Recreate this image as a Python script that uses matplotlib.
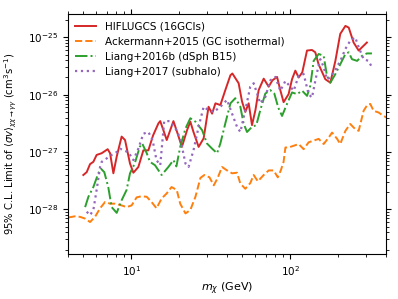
import numpy as np
import matplotlib
matplotlib.use('Agg')
import matplotlib.pyplot as plt

# values; masses in GeV, limits as log10(<sigma v> / cm^3 s^-1)
hif_mass = [4.99, 5.24, 5.50, 5.77, 6.05, 6.51, 7.10, 7.35, 7.71, 8.09, 8.69, 9.13, 9.81,
            10.3, 11.07, 11.9, 12.8, 13.7, 14.8, 15.2, 16.7, 18.4, 19.4, 20.8, 22.4, 23.5,
            24.6, 26.5, 28.5, 30.6, 32.2, 33.8, 36.3, 39.0, 42.0, 43.2, 47.3, 49.7, 52.1,
            54.7, 57.4, 60.3, 63.2, 68.0, 73.1, 77.1, 82.5, 86.5, 90.7, 97.5, 102.5, 107.5,
            112.8, 118.9, 127.3, 136.8, 143.5, 150.6, 166, 178.5, 192, 206, 222, 233, 250,
            269, 283, 303]
hif_logsv = [-27.40, -27.35, -27.21, -27.17, -27.05, -27.02, -26.95, -27.02, -27.37, -27.08,
             -26.73, -26.79, -27.20, -27.36, -27.26, -26.97, -26.97, -26.71, -26.50, -26.46,
             -26.79, -26.46, -26.65, -26.91, -26.62, -26.47, -26.65, -26.91, -26.76, -26.21,
             -26.33, -26.15, -26.18, -25.92, -25.66, -25.63, -25.80, -26.12, -26.30, -26.15,
             -26.53, -26.27, -25.92, -25.72, -25.86, -25.75, -25.69, -25.92, -26.13, -25.99,
             -25.73, -25.58, -25.70, -25.61, -25.23, -25.22, -25.26, -25.47, -25.73, -25.79,
             -25.41, -24.94, -24.80, -24.83, -25.09, -25.23, -25.17, -25.09]

ack_mass = [4.02, 4.43, 4.76, 5.12, 5.50, 5.91, 6.36, 6.84, 7.35, 7.89, 8.69, 9.34, 10.04,
            10.8, 11.6, 12.5, 13.4, 14.4, 15.5, 16.7, 17.9, 19.3, 20.3, 21.9, 23.5, 25.3,
            27.2, 28.8, 31.0, 33.0, 34.8, 37.2, 40.0, 43.0, 46.2, 48.5, 52.1, 56.0, 58.8,
            62.5, 68.0, 73.1, 78.5, 83.4, 87.1, 90.7, 93.1, 97.5, 105, 112.8, 121.3, 130.3,
            140.2, 150.7, 162, 174, 183, 197, 206, 222, 238, 256, 269, 289, 303, 318, 334,
            359, 386, 405]
ack_logsv = [-28.14, -28.12, -28.13, -28.16, -28.22, -28.13, -27.98, -27.87, -27.90, -27.90,
             -27.93, -27.96, -27.93, -27.79, -27.77, -27.78, -27.87, -27.98, -27.81, -27.72,
             -27.61, -27.66, -27.90, -28.07, -28.01, -27.78, -27.45, -27.40, -27.44, -27.58,
             -27.46, -27.26, -27.32, -27.37, -27.36, -27.55, -27.64, -27.54, -27.40, -27.51,
             -27.40, -27.32, -27.32, -27.44, -27.32, -27.17, -26.92, -26.92, -26.89, -26.86,
             -26.95, -26.83, -26.80, -26.77, -26.86, -26.75, -26.66, -26.77, -26.86, -26.63,
             -26.51, -26.60, -26.63, -26.28, -26.19, -26.16, -26.28, -26.31, -26.37, -26.40]

dsph_mass = [5.12, 5.37, 5.77, 6.20, 6.44, 6.76, 7.16, 7.52, 8.09, 8.69, 9.34, 9.81, 10.5,
             11.3, 11.7, 12.5, 13.1, 14.1, 15.5, 17.1, 18.4, 19.2, 20.3, 21.9, 23.5, 25.3,
             27.9, 29.9, 32.2, 34.6, 36.3, 39.0, 42.0, 45.1, 48.5, 50.8, 53.4, 57.4, 61.1,
             64.7, 69.6, 74.8, 79.3, 84.1, 88.7, 95.3, 102.5, 110.2, 118.6, 127.4, 133.6,
             140.2, 150.7, 162, 170, 178.5, 192, 206, 222, 233, 244, 263, 283, 303, 326]
dsph_logsv = [-27.96, -27.78, -27.61, -27.37, -27.29, -27.35, -27.61, -27.96, -28.06, -27.84,
              -27.66, -27.37, -27.20, -26.91, -26.85, -27.02, -27.17, -27.23, -27.40, -27.26,
              -27.14, -27.25, -26.91, -26.59, -26.41, -26.47, -26.62, -26.85, -26.94, -27.02,
              -26.85, -26.50, -26.15, -26.06, -26.21, -26.50, -26.65, -26.56, -26.53, -26.27,
              -25.98, -25.92, -25.98, -26.23, -26.37, -26.16, -25.96, -25.99, -25.93, -26.02,
              -25.84, -25.41, -25.29, -25.32, -25.67, -25.79, -25.64, -25.47, -25.29, -25.26,
              -25.38, -25.41, -25.32, -25.28, -25.28]

sub_mass = [5.24, 5.50, 5.77, 6.05, 6.36, 6.51, 7.00, 7.52, 8.09, 8.49, 8.91, 9.57, 10.3,
            11.07, 11.9, 12.8, 13.6, 14.4, 15.2, 16.1, 17.4, 18.9, 20.3, 21.9, 22.9, 24.6,
            26.5, 28.5, 30.6, 33.0, 36.3, 40.0, 43.0, 46.2, 48.5, 52.1, 56.0, 58.8, 61.8,
            64.7, 69.6, 74.8, 80.5, 86.5, 93.1, 105, 112.8, 121.3, 130.3, 136.8, 147.2,
            154.5, 162.2, 170, 178.5, 194.7, 211, 222, 238, 256, 269, 289, 310, 326]
sub_logsv = [-28.04, -28.10, -28.01, -27.66, -27.26, -27.17, -27.11, -27.05, -27.00, -26.94,
             -26.97, -27.00, -27.14, -26.94, -26.68, -26.65, -26.79, -27.14, -27.23, -26.46,
             -26.46, -26.58, -26.76, -27.20, -27.26, -26.97, -26.56, -26.21, -26.27, -26.30,
             -26.21, -26.09, -26.33, -26.56, -26.65, -26.27, -25.86, -25.80, -25.98, -26.15,
             -26.04, -25.75, -25.69, -25.93, -25.76, -25.93, -25.67, -25.64, -25.99, -26.05,
             -25.61, -25.38, -25.52, -25.73, -25.70, -25.54, -25.35, -25.20, -25.06, -25.00,
             -25.17, -25.38, -25.41, -25.52]

labels = ['HIFLUGCS (16GCls)', 'Ackermann+2015 (GC isothermal)',
          'Liang+2016b (dSph B15)', 'Liang+2017 (subhalo)']
ytick_vals = [1e-28, 1e-27, 1e-26, 1e-25]

plt.rcParams['font.size'] = 7.5
fig = plt.figure(figsize=(3.98, 2.99), dpi=100)
ax = fig.add_axes([0.171, 0.150, 0.799, 0.803])

ax.plot(hif_mass, 10 ** np.array(hif_logsv), '-', color='#d62728', lw=1.4, label=labels[0])
ax.plot(ack_mass, 10 ** np.array(ack_logsv), '--', color='#ff7f0e', lw=1.4, label=labels[1])
ax.plot(dsph_mass, 10 ** np.array(dsph_logsv), '-.', color='#2ca02c', lw=1.4, label=labels[2])
ax.plot(sub_mass, 10 ** np.array(sub_logsv), ':', color='#9467bd', lw=1.6, label=labels[3])

ax.set_xscale('log')
ax.set_yscale('log')
ax.set_xlim(4.0, 400)
ax.set_ylim(1.66e-29, 2.55e-25)
ax.set_yticks(ytick_vals)
ax.tick_params(which='both', top=True, right=True)
ax.set_xlabel(r'$m_\chi$ (GeV)', fontsize=8, labelpad=2)
ax.set_ylabel(r'95% C.L. Limit of $\langle\sigma v\rangle_{\chi\chi\to\gamma\gamma}$ (cm$^3$s$^{-1}$)',
              fontsize=7.2)
ax.yaxis.set_label_coords(-0.155, 0.46)
ax.legend(loc='upper left', frameon=False, fontsize=7.5, borderaxespad=0.3)

fig.savefig('out.png', dpi=100)
